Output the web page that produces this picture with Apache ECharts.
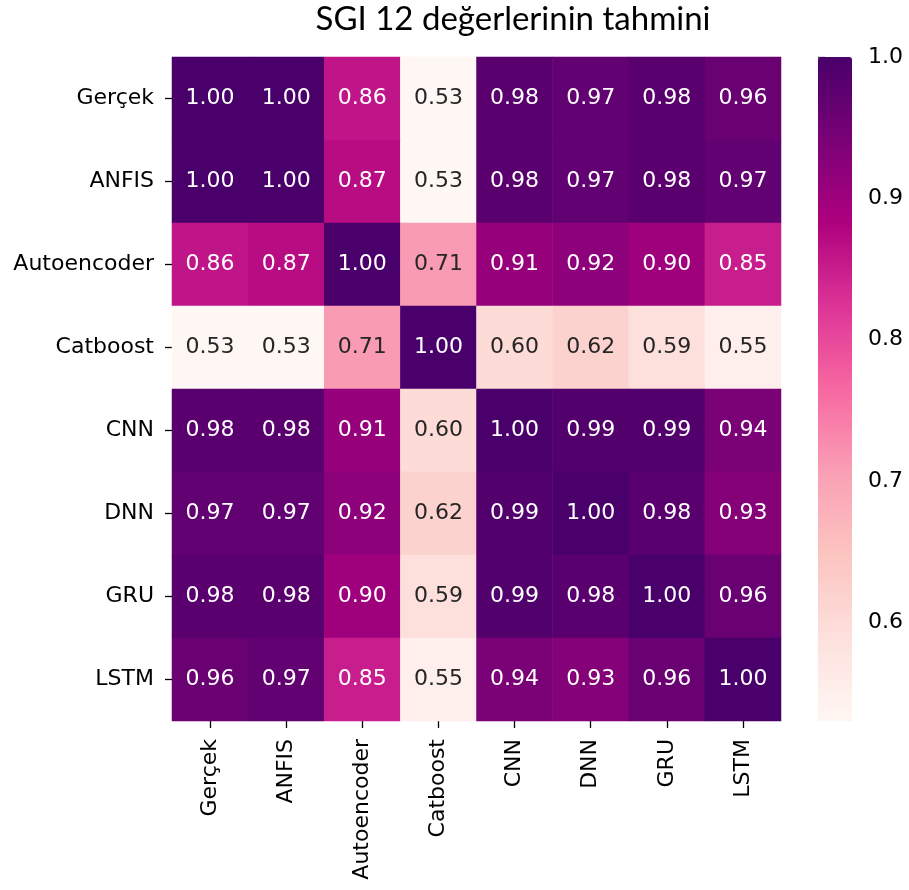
<!DOCTYPE html>
<html>
<head>
<meta charset="utf-8">
<script src="https://cdn.jsdelivr.net/npm/echarts@6/dist/echarts.min.js"></script>
<style>
  html, body { margin: 0; padding: 0; background: #fff; }
  #chart { width: 909px; height: 890px; }
</style>
</head>
<body>
<div id="chart"></div>
<script>
// Model names, in row/column order
const models = ['Gerçek', 'ANFIS', 'Autoencoder', 'Catboost', 'CNN', 'DNN', 'GRU', 'LSTM'];

// Correlation matrix rows
const rowGercek      = [1.00, 1.00, 0.86, 0.53, 0.98, 0.97, 0.98, 0.96];
const rowAnfis       = [1.00, 1.00, 0.87, 0.53, 0.98, 0.97, 0.98, 0.97];
const rowAutoencoder = [0.86, 0.87, 1.00, 0.71, 0.91, 0.92, 0.90, 0.85];
const rowCatboost    = [0.53, 0.53, 0.71, 1.00, 0.60, 0.62, 0.59, 0.55];
const rowCnn         = [0.98, 0.98, 0.91, 0.60, 1.00, 0.99, 0.99, 0.94];
const rowDnn         = [0.97, 0.97, 0.92, 0.62, 0.99, 1.00, 0.98, 0.93];
const rowGru         = [0.98, 0.98, 0.90, 0.59, 0.99, 0.98, 1.00, 0.96];
const rowLstm        = [0.96, 0.97, 0.85, 0.55, 0.94, 0.93, 0.96, 1.00];
const matrix = [rowGercek, rowAnfis, rowAutoencoder, rowCatboost, rowCnn, rowDnn, rowGru, rowLstm];

// Colorbar tick values
const colorbarTicks = [0.6, 0.7, 0.8, 0.9, 1.0];

const title = 'SGI 12 değerlerinin tahmini';

// RdPu sequential palette
const rdPu = ['#fff7f3', '#fde0dd', '#fcc5c0', '#fa9fb5', '#f768a1', '#dd3497', '#ae017e', '#7a0177', '#49006a'];

const vMin = Math.min(...matrix.flat());
const vMax = Math.max(...matrix.flat());

const FONT = 'DejaVu Sans';
const heatData = [];
matrix.forEach((row, r) => {
  row.forEach((v, c) => {
    heatData.push({
      value: [c, r, v],
      label: { color: v < 0.78 ? '#262626' : '#ffffff' }
    });
  });
});

const chart = echarts.init(document.getElementById('chart'), null, { renderer: 'canvas' });

const grid = { left: 172, top: 57, width: 609, height: 664 };
const cbar = { left: 818, top: 57, width: 34, height: 664 };

chart.setOption({
  animation: false,
  backgroundColor: '#ffffff',
  title: {
    text: title,
    left: 508,
    top: -2,
    textAlign: 'center',
    textStyle: { fontFamily: 'Lato', fontWeight: 'normal', fontSize: 33, color: '#000' }
  },
  grid: [
    { left: grid.left, top: grid.top, width: grid.width, height: grid.height },
    { left: cbar.left, top: cbar.top, width: cbar.width, height: cbar.height }
  ],
  xAxis: [
    {
      type: 'category', gridIndex: 0, data: models, position: 'bottom',
      axisLine: { show: false },
      axisTick: { show: true, alignWithLabel: true, length: 7, lineStyle: { color: '#000', width: 1.3 } },
      axisLabel: { rotate: 90, margin: 18, fontFamily: FONT, fontSize: 22, color: '#000' },
      splitLine: { show: false }
    },
    { type: 'value', gridIndex: 1, show: false, min: 0, max: 1 }
  ],
  yAxis: [
    {
      type: 'category', gridIndex: 0, data: models, inverse: true,
      axisLine: { show: false },
      axisTick: { show: true, alignWithLabel: true, length: 7, lineStyle: { color: '#000', width: 1.3 } },
      axisLabel: { margin: 18, fontFamily: FONT, fontSize: 22, color: '#000' },
      splitLine: { show: false }
    },
    {
      type: 'value', gridIndex: 1, position: 'right', min: vMin, max: vMax,
      axisLine: { show: false },
      axisTick: { show: true, length: 7, customValues: colorbarTicks, lineStyle: { color: '#000', width: 1.3 } },
      axisLabel: {
        margin: 16, fontFamily: FONT, fontSize: 22, color: '#000',
        customValues: colorbarTicks,
        formatter: v => v.toFixed(1)
      },
      splitLine: { show: false }
    }
  ],
  visualMap: {
    type: 'continuous',
    seriesIndex: 0,
    min: vMin,
    max: vMax,
    calculable: false,
    hoverLink: false,
    orient: 'vertical',
    left: cbar.left,
    top: cbar.top,
    padding: 0,
    itemWidth: cbar.width,
    itemHeight: cbar.height,
    text: null,
    showLabel: false,
    inRange: { color: rdPu }
  },
  series: [
    {
      type: 'heatmap',
      xAxisIndex: 0,
      yAxisIndex: 0,
      data: heatData,
      label: {
        show: true,
        fontFamily: FONT,
        fontSize: 22,
        formatter: p => p.value[2].toFixed(2)
      },
      itemStyle: { borderWidth: 0 },
      emphasis: { disabled: true }
    }
  ]
});
</script>
</body>
</html>
